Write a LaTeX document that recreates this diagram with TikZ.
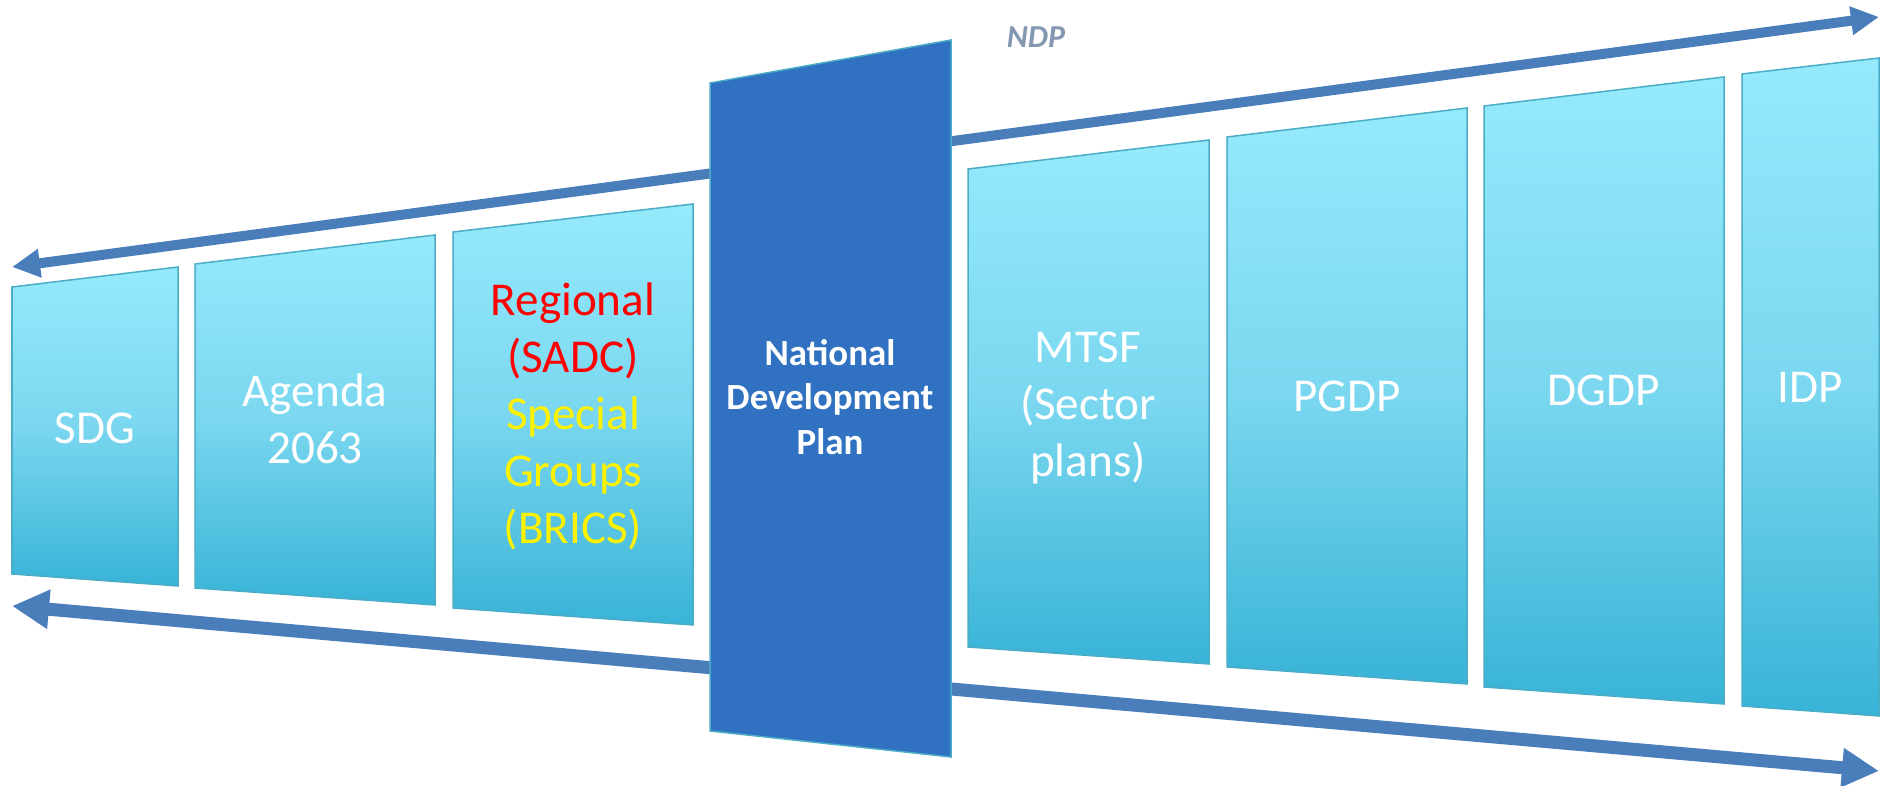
\documentclass[tikz,border=0pt]{standalone}
\usepackage{fontspec}
\setmainfont{Carlito}
\usetikzlibrary{arrows.meta}
\definecolor{flowblue}{RGB}{74,126,187}
\definecolor{plandark}{RGB}{48,113,193}
\definecolor{paneledge}{RGB}{75,172,198}
\definecolor{paneltop}{RGB}{149,234,252}
\definecolor{panelmid}{RGB}{122,215,239}
\definecolor{panelbot}{RGB}{56,179,215}
\definecolor{ndpgrey}{RGB}{132,151,176}

\begin{document}
\begin{tikzpicture}[x=0.01cm,y=-0.01cm,
		panel/.style={draw=paneledge, line width=0.015cm, top color=paneltop, bottom color=panelbot, middle color=panelmid},
		planname/.style={text=white, align=center, font=\fontsize{13.4}{16.2}\selectfont},
		flowup/.style={flowblue, line width=0.1cm, {Triangle[length=0.28cm,width=0.27cm]}-{Triangle[length=0.28cm,width=0.27cm]}},
		flowdown/.style={flowblue, line width=0.13cm, {Triangle[length=0.37cm,width=0.37cm]}-{Triangle[length=0.37cm,width=0.37cm]}}]
		\useasboundingbox (0,0) rectangle (1884,786);

		%% Arrows (behind the plan)
		\coordinate (upL) at (12,267);
		\coordinate (upR) at (1879,17);
		\coordinate (loL) at (12,606);
		\coordinate (loR) at (1879,771);

		\draw[flowup] (upL) -- (upR);
		\draw[flowdown] (loL) -- (loR);

		\node at (1036,37)(ndplabel){\fontsize{9.1}{11}\selectfont\bfseries\itshape\color{ndpgrey}NDP};

		%% Left panels
		\shadedraw[panel] (12,287) -- (178,267) -- (178,586) -- (12,574) -- cycle;
		\node[planname] at (95,428)(sdg){SDG};

		\shadedraw[panel] (195,264) -- (435,235) -- (435,605) -- (195,588) -- cycle;
		\node[planname] at (315,419)(agenda){Agenda\\2063};

		\shadedraw[panel] (453,232) -- (693,204) -- (693,625) -- (453,608) -- cycle;
		\node[planname] at (573,416)(regional){\color{red}Regional\\\color{red}(SADC)\\
			\color{yellow}Special\\\color{yellow}Groups\\\color{yellow}(BRICS)};

		%% National plan
		\filldraw[fill=plandark, draw=paneledge, line width=0.015cm]
			(710,83) -- (951,40) -- (951,757) -- (710,731) -- cycle;
		\node[planname, font=\fontsize{10.5}{12.7}\selectfont\bfseries] at (830,397)(ndp){National\\Development\\Plan};

		%% Right panels
		\shadedraw[panel] (968,169) -- (1209,140) -- (1209,664) -- (968,647) -- cycle;
		\node[planname] at (1088,408)(mtsf){MTSF\\(Sector\\plans)};

		\shadedraw[panel] (1227,137) -- (1467,108) -- (1467,684) -- (1227,667) -- cycle;
		\node[planname] at (1347,396)(pgdp){PGDP};

		\shadedraw[panel] (1484,106) -- (1724,77) -- (1724,704) -- (1484,687) -- cycle;
		\node[planname] at (1604,390)(dgdp){DGDP};

		\shadedraw[panel] (1742,74) -- (1879,58) -- (1879,716) -- (1742,706) -- cycle;
		\node[planname] at (1810,387)(idp){IDP};
\end{tikzpicture}
\end{document}
